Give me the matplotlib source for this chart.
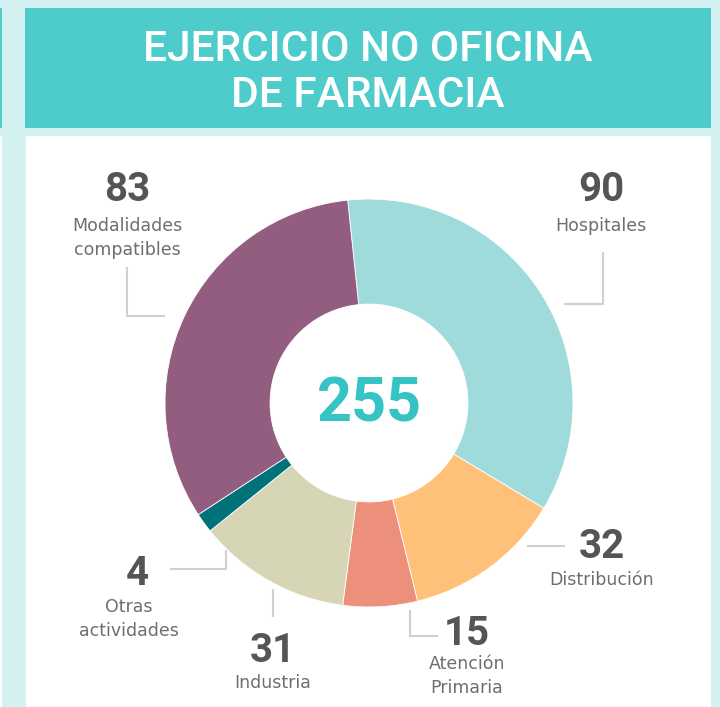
import matplotlib
matplotlib.use('Agg')
import matplotlib.pyplot as plt
from matplotlib.patches import Rectangle

# data
categories = ['Hospitales', 'Distribución', 'Atención\nPrimaria', 'Industria',
              'Otras\nactividades', 'Modalidades\ncompatibles']
values = [90, 32, 15, 31, 4, 83]
colors = ['#a0dbdc', '#ffc17a', '#ec8f7b', '#d6d5b6', '#00727a', '#935d7f']
title = 'EJERCICIO NO OFICINA\nDE FARMACIA'
total = sum(values)

W, H = 720, 707
fig = plt.figure(figsize=(W / 100, H / 100), dpi=100, facecolor='#d2f1f0')

# pixel canvas for panels, labels and leader lines
bg = fig.add_axes([0, 0, 1, 1])
bg.set_xlim(0, W)
bg.set_ylim(H, 0)
bg.axis('off')

bg.add_patch(Rectangle((25, 8), 686, 120, color='#4ecbcb', lw=0))
bg.add_patch(Rectangle((26, 136), 685, 580, color='white', lw=0))
bg.add_patch(Rectangle((0, 8), 1.5, 120, color='#4ecbcb', lw=0))
bg.add_patch(Rectangle((0, 136), 1.5, 580, color='white', lw=0))

l1, l2 = title.split('\n')
tkw = dict(color='white', ha='center', va='baseline', fontsize=30.5,
           fontfamily=['Roboto', 'DejaVu Sans'], fontweight='medium')
bg.text(368, 61, l1, **tkw)
bg.text(368, 107, l2, **tkw)

# label placement: (x, number baseline, first label baseline)
label_pos = {
    'Hospitales': (601, 201, 231),
    'Distribución': (602, 558, 585),
    'Atención\nPrimaria': (467, 645, 669),
    'Industria': (273, 662, 688),
    'Otras\nactividades': (129, 585, 612),
    'Modalidades\ncompatibles': (127, 201, 231),
}
num_dx = {'Otras\nactividades': 8}
leaders = {
    'Hospitales': ([564, 603, 603], [304, 304, 252]),
    'Distribución': ([527, 565], [546, 546]),
    'Atención\nPrimaria': ([410, 410, 438], [610, 636, 636]),
    'Industria': ([273, 273], [589, 617]),
    'Otras\nactividades': ([170, 226, 226], [569, 569, 550]),
    'Modalidades\ncompatibles': ([127, 127, 165], [267, 316, 316]),
}

for cat, val in zip(categories, values):
    x, yn, yl = label_pos[cat]
    bg.text(x + num_dx.get(cat, 0), yn, str(val), ha='center', va='baseline',
            fontsize=29, fontweight='bold', color='#555555',
            fontfamily=['Roboto', 'DejaVu Sans'])
    for k, line in enumerate(cat.split('\n')):
        bg.text(x, yl + 24 * k, line, ha='center', va='baseline', fontsize=12.5,
                color='#6e6e6e', fontfamily=['DejaVu Sans'])
    lx, ly = leaders[cat]
    bg.plot(lx, ly, color='#d0d0d0', lw=1.5, solid_capstyle='butt')

# donut
cx, cy, r = 369, 403, 204
ax = fig.add_axes([(cx - r) / W, (H - cy - r) / H, 2 * r / W, 2 * r / H])
ax.pie(values, colors=colors, startangle=96, counterclock=False, radius=1,
       wedgeprops=dict(width=0.515, edgecolor='white', linewidth=0.6))
ax.set_xlim(-1, 1)
ax.set_ylim(-1, 1)
ax.axis('off')
ax.text(0, -0.005, str(total), ha='center', va='center', fontsize=44,
        fontweight='bold', color='#36c3c3', fontfamily=['Roboto', 'DejaVu Sans'])

fig.savefig('out.png', dpi=100, facecolor=fig.get_facecolor())
